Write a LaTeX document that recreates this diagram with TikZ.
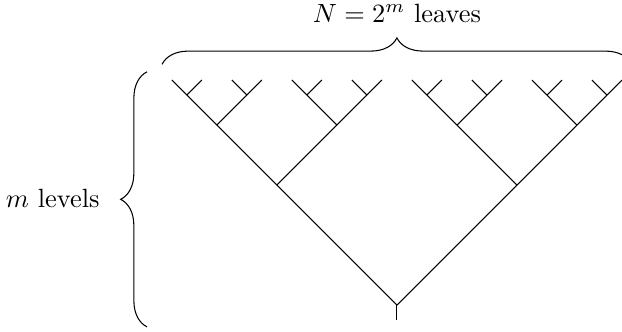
\documentclass[tikz,border=0pt]{standalone}
\usepackage{amsmath,amssymb}
\usepackage{tikz}
\usetikzlibrary{positioning,decorations.pathreplacing}

\begin{document}
\begin{tikzpicture}[
  branch/.style={coordinate},
  edge/.style={thin},
  bracket/.style={decorate, decoration={brace, amplitude=10pt}}
]

  \useasboundingbox (-5.29,-0.347) rectangle (3.0,4.067);

  % Root and stem
  \node[branch] (n0-0) at (0,0) {};
  \node[branch] (stem) at (0,-0.2) {};
  \draw[edge] (n0-0) -- (stem);

  % Levels of the tree, halving the step each time
  \foreach \k/\d in {1/1.6,2/0.8,3/0.4,4/0.2}{
    \pgfmathtruncatemacro{\p}{\k-1}
    \pgfmathtruncatemacro{\last}{2^\p-1}
    \foreach \i in {0,...,\last}{
      \pgfmathtruncatemacro{\a}{2*\i}
      \pgfmathtruncatemacro{\b}{2*\i+1}
      \node[branch, above left=\d cm and \d cm of n\p-\i] (n\k-\a) {};
      \node[branch, above right=\d cm and \d cm of n\p-\i] (n\k-\b) {};
      \draw[edge] (n\p-\i) -- (n\k-\a);
      \draw[edge] (n\p-\i) -- (n\k-\b);
    }
  }

  % Brace over the leaves
  \coordinate (topL) at (-3.13,3.21);
  \coordinate (topR) at (3.13,3.21);
  \draw[bracket] (topL) -- (topR);
  \node (leaves) at (0,3.89) {$N = 2^m$ leaves};

  % Brace along the levels
  \coordinate (sideB) at (-3.33,-0.29);
  \coordinate (sideT) at (-3.33,3.11);
  \draw[bracket] (sideB) -- (sideT);
  \node[anchor=east] (levels) at (-3.84,1.42) {$m$ levels};

\end{tikzpicture}
\end{document}
